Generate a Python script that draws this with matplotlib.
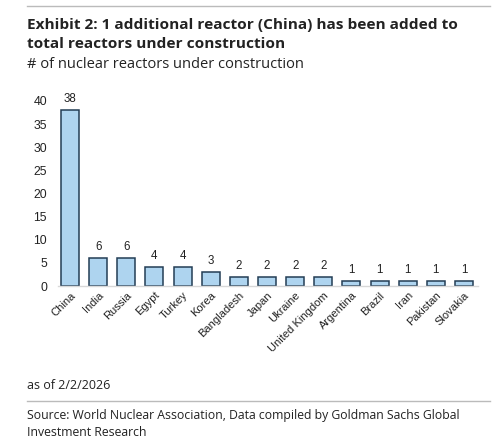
import matplotlib
matplotlib.use("Agg")
import matplotlib.pyplot as plt
from matplotlib.lines import Line2D

countries = ["China", "India", "Russia", "Egypt", "Turkey", "Korea", "Bangladesh",
             "Japan", "Ukraine", "United Kingdom", "Argentina", "Brazil", "Iran",
             "Pakistan", "Slovakia"]
reactors = [38, 6, 6, 4, 4, 3, 2, 2, 2, 2, 1, 1, 1, 1, 1]
yticks = [0, 5, 10, 15, 20, 25, 30, 35, 40]

title = "Exhibit 2: 1 additional reactor (China) has been added to\ntotal reactors under construction"
subtitle = "# of nuclear reactors under construction"
note = "as of 2/2/2026"
source = "Source: World Nuclear Association, Data compiled by Goldman Sachs Global\nInvestment Research"

fig = plt.figure(figsize=(5, 4.4), dpi=100)
ax = fig.add_axes([0.116, 0.35, 0.84, 0.4205])

x = list(range(len(countries)))
bars = ax.bar(x, reactors, width=0.64, color="#aed4ef", edgecolor="#233d55", linewidth=1.1)
for xi, v in zip(x, reactors):
    ax.text(xi, v + 1.1, str(v), ha="center", va="bottom", fontsize=8.3,
            family="Liberation Sans", color="#222222")

ax.set_xlim(-0.43, 14.5)
ax.set_ylim(0, 40)
ax.set_yticks(yticks)
ax.set_xticks(x)
ax.set_xticklabels(countries, rotation=45, ha="right", rotation_mode="anchor",
                   fontsize=8, family="Liberation Sans", color="#222222")
for lab in ax.get_yticklabels():
    lab.set_family("Liberation Sans")
    lab.set_fontsize(8.8)
    lab.set_color("#222222")
ax.tick_params(axis="y", length=0, pad=8)
ax.tick_params(axis="x", length=0, pad=3)
for s in ["top", "right", "left"]:
    ax.spines[s].set_visible(False)
ax.spines["bottom"].set_color("#d8d8d8")
ax.spines["bottom"].set_linewidth(1.0)

fig.add_artist(Line2D([27 / 500, 490 / 500], [1 - 6 / 440, 1 - 6 / 440], color="#bbbbbb", lw=1))
fig.add_artist(Line2D([27 / 500, 490 / 500], [1 - 401 / 440, 1 - 401 / 440], color="#bbbbbb", lw=1))

fig.text(27 / 500, 1 - 18 / 440, title, ha="left", va="top", fontsize=11.1, fontweight="bold",
         family="Open Sans", color="#222222", linespacing=1.42)
fig.text(27 / 500, 1 - 57 / 440, subtitle, ha="left", va="top", fontsize=10.5,
         family="Open Sans", color="#222222")
fig.text(27 / 500, 1 - 379 / 440, note, ha="left", va="top", fontsize=9,
         family="Open Sans", color="#222222")
fig.text(27 / 500, 1 - 409 / 440, source, ha="left", va="top", fontsize=8.8,
         family="Open Sans", color="#222222", linespacing=1.35)

fig.savefig("out.png", dpi=100, facecolor="white")
